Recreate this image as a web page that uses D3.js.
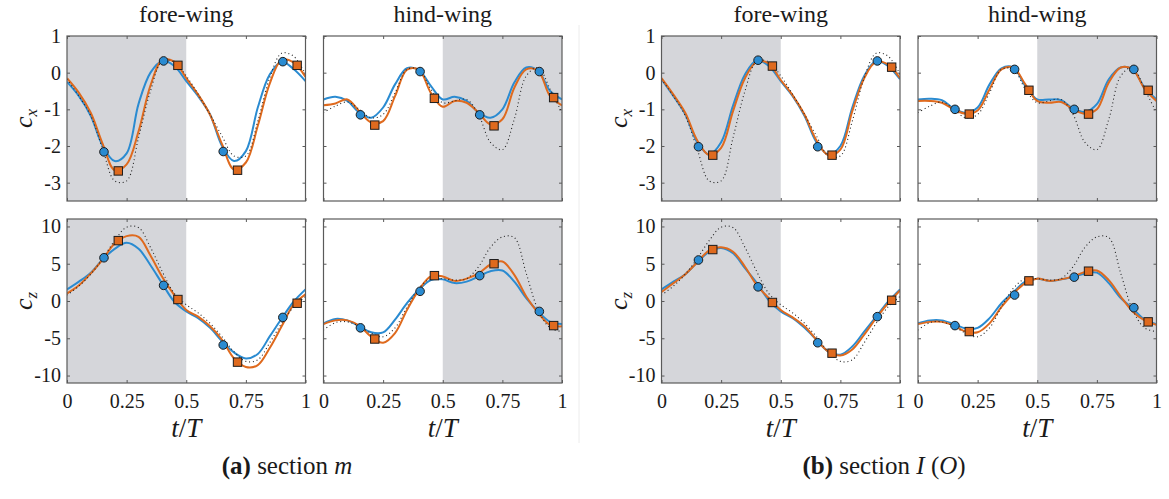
<!DOCTYPE html>
<html>
<head>
<meta charset="utf-8">
<script src="https://cdn.jsdelivr.net/npm/d3@7"></script>
<style>
body { margin: 0; background: #fff; }
svg text { font-family: 'Liberation Serif', 'DejaVu Serif', serif; fill: #1a1a1a; }
</style>
</head>
<body>
<svg id="fig" width="1169" height="499"></svg>
<script>
// sample times (t/T) for every curve
const tGrid = [0, 0.05, 0.1, 0.15, 0.2, 0.25, 0.3, 0.35, 0.4, 0.45, 0.5, 0.55, 0.6, 0.65, 0.7, 0.75, 0.8, 0.85, 0.9, 0.95, 1];
const circT = [0.155, 0.405, 0.655, 0.905];
const sqT = [0.215, 0.465, 0.715, 0.965];

const tTicks = [0, 0.25, 0.5, 0.75, 1];
const tTickLabels = ['0', '0.25', '0.5', '0.75', '1'];
const cxTicks = [-3, -2, -1, 0, 1];
const czTicks = [-10, -5, 0, 5, 10];
const cxDomain = [-3.5, 1];
const czDomain = [-11, 11];
const shadeFore = [0, 0.5];
const shadeHind = [0.5, 1];

const wingTitles = ['fore-wing', 'hind-wing'];

// reference (dotted), same in both sections
const ref_fore_cx = [-0.18, -0.64, -1.18, -2.09, -2.95, -2.95, -1.77, -0.5, 0.32, 0.29, -0.09, -0.59, -1.14, -1.73, -2.27, -2.27, -1.32, -0.14, 0.53, 0.45, -0.05];
const ref_hind_cx = [-1.09, -0.91, -0.8, -1.0, -1.23, -1.14, -0.55, 0.09, 0.09, -0.45, -0.82, -0.77, -0.73, -1.14, -1.9, -2.1, -1.27, -0.09, 0.14, -0.45, -1.09];
const ref_fore_cz = [0.8, 2.0, 3.6, 5.7, 8.1, 9.9, 9.85, 7.2, 3.9, 1.0, -0.5, -1.6, -3.0, -4.8, -6.8, -8.1, -7.9, -5.6, -3.0, -0.8, 0.6];
const ref_hind_cz = [-3.9, -2.9, -2.8, -3.4, -4.3, -4.8, -3.6, -0.8, 1.7, 3.0, 3.0, 2.8, 3.0, 4.6, 7.2, 8.6, 8.5, 3.7, -1.2, -3.6, -4.1];

// section m
const m_fore_cx_blue = [-0.25, -0.64, -1.18, -2.0, -2.41, -2.2, -0.85, 0.0, 0.32, 0.18, -0.23, -0.64, -1.14, -2.0, -2.41, -2.14, -0.95, -0.05, 0.3, 0.1, -0.23];
const m_fore_cx_orange = [-0.15, -0.55, -1.1, -1.95, -2.66, -2.5, -1.6, -0.35, 0.35, 0.3, -0.15, -0.6, -1.15, -1.95, -2.64, -2.45, -1.45, -0.3, 0.35, 0.28, -0.12];
const m_fore_cx_circ = [-2.16, 0.32, -2.15, 0.3];
const m_fore_cx_sq = [-2.68, 0.2, -2.66, 0.2];

const m_hind_cx_blue = [-0.73, -0.66, -0.77, -1.09, -1.23, -0.95, -0.32, 0.12, 0.07, -0.36, -0.73, -0.66, -0.77, -1.09, -1.23, -1.0, -0.27, 0.14, 0.05, -0.5, -0.73];
const m_hind_cx_orange = [-0.89, -0.84, -0.73, -1.05, -1.36, -1.32, -0.64, 0.08, 0.08, -0.55, -0.93, -0.77, -0.82, -1.09, -1.41, -1.27, -0.41, 0.09, 0.05, -0.64, -0.89];
const m_hind_cx_circ = [-1.15, 0.03, -1.15, 0.03];
const m_hind_cx_sq = [-1.43, -0.7, -1.45, -0.68];

const m_fore_cz_blue = [1.56, 2.6, 3.8, 5.6, 7.0, 7.8, 7.0, 4.8, 2.3, -0.1, -1.4, -2.3, -3.6, -5.4, -6.9, -7.7, -7.1, -4.75, -2.35, -0.1, 1.56];
const m_fore_cz_orange = [1.0, 2.1, 3.7, 5.6, 7.7, 8.7, 8.6, 6.1, 3.2, 0.8, -1.2, -2.1, -3.4, -5.2, -7.7, -8.85, -8.6, -6.3, -3.4, -0.5, 0.9];
const m_fore_cz_circ = [5.8, 2.1, -5.9, -2.2];
const m_fore_cz_sq = [8.1, 0.2, -8.2, -0.3];

const m_hind_cz_blue = [-3.0, -2.4, -2.6, -3.4, -4.2, -4.2, -2.5, -0.3, 1.5, 2.8, 2.9, 2.4, 2.6, 3.3, 4.0, 4.1, 2.6, 0.4, -1.4, -2.8, -3.1];
const m_hind_cz_orange = [-3.1, -2.6, -2.6, -3.3, -4.8, -5.6, -4.3, -1.2, 1.5, 3.3, 3.3, 2.7, 3.0, 3.7, 4.9, 5.3, 3.5, 0.6, -1.6, -3.2, -3.4];
const m_hind_cz_circ = [-3.6, 1.3, 3.4, -1.4];
const m_hind_cz_sq = [-5.1, 3.4, 5.0, -3.3];

// section I (O)
const io_fore_cx_blue = [-0.18, -0.64, -1.14, -1.9, -2.23, -1.9, -0.9, -0.05, 0.34, 0.18, -0.23, -0.64, -1.18, -1.9, -2.23, -2.0, -0.95, -0.09, 0.32, 0.18, -0.18];
const io_fore_cx_orange = [-0.15, -0.6, -1.1, -1.85, -2.25, -2.05, -1.05, -0.15, 0.3, 0.25, -0.2, -0.62, -1.15, -1.85, -2.25, -2.1, -1.05, -0.15, 0.3, 0.22, -0.15];
const io_fore_cx_circ = [-2.02, 0.34, -2.02, 0.32];
const io_fore_cx_sq = [-2.25, 0.18, -2.25, 0.15];

const io_hind_cx_blue = [-0.73, -0.71, -0.75, -0.98, -1.09, -0.95, -0.32, 0.12, 0.14, -0.36, -0.73, -0.73, -0.75, -0.98, -1.07, -0.86, -0.18, 0.14, 0.09, -0.41, -0.73];
const io_hind_cx_orange = [-0.77, -0.77, -0.82, -1.0, -1.12, -1.03, -0.45, 0.09, 0.14, -0.32, -0.77, -0.82, -0.8, -1.0, -1.12, -1.0, -0.27, 0.14, 0.09, -0.44, -0.77];
const io_hind_cx_circ = [-1.0, 0.09, -1.0, 0.09];
const io_hind_cx_sq = [-1.13, -0.48, -1.13, -0.48];

const io_fore_cz_blue = [1.56, 2.6, 3.6, 5.2, 6.6, 7.1, 6.4, 4.4, 2.4, 0.1, -1.4, -2.3, -3.6, -5.2, -6.8, -7.2, -6.1, -4.1, -2.1, -0.1, 1.56];
const io_fore_cz_orange = [1.2, 2.4, 3.6, 5.2, 6.8, 7.2, 6.6, 4.6, 2.1, 0.4, -1.2, -2.2, -3.4, -5.2, -6.8, -7.3, -6.5, -4.5, -2.3, -0.3, 1.4];
const io_fore_cz_circ = [5.5, 1.9, -5.6, -2.1];
const io_fore_cz_sq = [6.9, -0.2, -7.0, 0.1];

const io_hind_cz_blue = [-3.0, -2.6, -2.6, -3.1, -3.7, -3.6, -2.3, -0.3, 1.2, 2.6, 3.0, 2.7, 2.9, 3.2, 3.7, 3.8, 2.4, 0.4, -1.0, -2.5, -3.1];
const io_hind_cz_orange = [-3.1, -2.8, -2.8, -3.3, -4.1, -4.2, -3.0, -0.8, 1.0, 2.4, 3.0, 2.7, 2.9, 3.3, 3.9, 4.1, 2.8, 0.6, -1.4, -2.6, -3.2];
const io_hind_cz_circ = [-3.3, 0.8, 3.2, -0.9];
const io_hind_cz_sq = [-4.1, 2.7, 4.0, -2.8];

const panels = [
    {sec: 0, wing: 0, comp: 'cx', blue: m_fore_cx_blue, orange: m_fore_cx_orange, ref: ref_fore_cx, circ: m_fore_cx_circ, sq: m_fore_cx_sq},
    {sec: 0, wing: 1, comp: 'cx', blue: m_hind_cx_blue, orange: m_hind_cx_orange, ref: ref_hind_cx, circ: m_hind_cx_circ, sq: m_hind_cx_sq},
    {sec: 0, wing: 0, comp: 'cz', blue: m_fore_cz_blue, orange: m_fore_cz_orange, ref: ref_fore_cz, circ: m_fore_cz_circ, sq: m_fore_cz_sq},
    {sec: 0, wing: 1, comp: 'cz', blue: m_hind_cz_blue, orange: m_hind_cz_orange, ref: ref_hind_cz, circ: m_hind_cz_circ, sq: m_hind_cz_sq},
    {sec: 1, wing: 0, comp: 'cx', blue: io_fore_cx_blue, orange: io_fore_cx_orange, ref: ref_fore_cx, circ: io_fore_cx_circ, sq: io_fore_cx_sq},
    {sec: 1, wing: 1, comp: 'cx', blue: io_hind_cx_blue, orange: io_hind_cx_orange, ref: ref_hind_cx, circ: io_hind_cx_circ, sq: io_hind_cx_sq},
    {sec: 1, wing: 0, comp: 'cz', blue: io_fore_cz_blue, orange: io_fore_cz_orange, ref: ref_fore_cz, circ: io_fore_cz_circ, sq: io_fore_cz_sq},
    {sec: 1, wing: 1, comp: 'cz', blue: io_hind_cz_blue, orange: io_hind_cz_orange, ref: ref_hind_cz, circ: io_hind_cz_circ, sq: io_hind_cz_sq},
];

// layout
const colX = [67, 323.5, 661.5, 918];
const PW = 238.5;
const rows = {
    cx: {y0: 36, y1: 201, domain: cxDomain, ticks: cxTicks, sub: 'x'},
    cz: {y0: 219, y1: 383, domain: czDomain, ticks: czTicks, sub: 'z'}
};
const BLUE = '#2a8bd1';
const ORANGE = '#df6a1e';
const FRAME = '#5a5a5a';

const svg = d3.select('#fig');

// thin separator between the two sub-figures
svg.append('line')
    .attr('x1', 579).attr('x2', 579).attr('y1', 25).attr('y2', 443)
    .attr('stroke', '#ececec').attr('stroke-width', 1);

panels.forEach((p, k) => {
    const col = p.sec * 2 + p.wing;
    const r = rows[p.comp];
    const x = d3.scaleLinear().domain([0, 1]).range([colX[col], colX[col] + PW]);
    const y = d3.scaleLinear().domain(r.domain).range([r.y1, r.y0]);
    const g = svg.append('g');

    const clipId = 'clip' + k;
    svg.append('clipPath').attr('id', clipId)
        .append('rect')
        .attr('x', x(0)).attr('y', r.y0)
        .attr('width', x(1) - x(0)).attr('height', r.y1 - r.y0);

    // shaded half period
    const sh = p.wing === 0 ? shadeFore : shadeHind;
    g.append('rect')
        .attr('x', x(sh[0])).attr('y', r.y0)
        .attr('width', x(sh[1]) - x(sh[0])).attr('height', r.y1 - r.y0)
        .attr('fill', '#d5d6da');

    // axes, ticks pointing inwards on all four sides
    const showX = p.comp === 'cz';
    const showY = p.wing === 0;
    const axB = d3.axisBottom(x).tickValues(tTicks).tickSize(-3).tickPadding(11)
        .tickFormat((d, i) => showX ? tTickLabels[i] : '');
    const axT = d3.axisTop(x).tickValues(tTicks).tickSize(-3).tickFormat('');
    const axL = d3.axisLeft(y).tickValues(r.ticks).tickSize(-3).tickPadding(6)
        .tickFormat(d => showY ? String(d) : '');
    const axR = d3.axisRight(y).tickValues(r.ticks).tickSize(-3).tickFormat('');

    [[axB, `translate(0,${r.y1})`], [axT, `translate(0,${r.y0})`],
     [axL, `translate(${x(0)},0)`], [axR, `translate(${x(1)},0)`]].forEach(([ax, tr]) => {
        const a = g.append('g').attr('transform', tr).call(ax)
            .attr('font-family', null).attr('font-size', null);
        a.select('.domain').remove();
        a.selectAll('line').attr('stroke', FRAME).attr('stroke-width', 1);
        a.selectAll('text').attr('font-size', 20).attr('fill', '#1a1a1a');
    });

    // curves
    const line = d3.line()
        .x((d, i) => x(tGrid[i]))
        .y(d => y(d))
        .curve(d3.curveCatmullRom.alpha(0.5));
    const lines = g.append('g').attr('clip-path', `url(#${clipId})`);
    lines.append('path').datum(p.blue).attr('d', line)
        .attr('fill', 'none').attr('stroke', BLUE).attr('stroke-width', 2);
    lines.append('path').datum(p.orange).attr('d', line)
        .attr('fill', 'none').attr('stroke', ORANGE).attr('stroke-width', 2);
    lines.append('path').datum(p.ref).attr('d', line)
        .attr('fill', 'none').attr('stroke', '#222').attr('stroke-width', 1.1)
        .attr('stroke-dasharray', '1,2.8');

    // markers
    g.selectAll(null).data(p.circ).join('circle')
        .attr('cx', (d, i) => x(circT[i])).attr('cy', d => y(d)).attr('r', 4.3)
        .attr('fill', BLUE).attr('stroke', '#1c1c1c').attr('stroke-width', 1);
    g.selectAll(null).data(p.sq).join('rect')
        .attr('x', (d, i) => x(sqT[i]) - 4.2).attr('y', d => y(d) - 4.2)
        .attr('width', 8.4).attr('height', 8.4)
        .attr('fill', ORANGE).attr('stroke', '#1c1c1c').attr('stroke-width', 1);

    // frame
    g.append('rect')
        .attr('x', x(0)).attr('y', r.y0)
        .attr('width', x(1) - x(0)).attr('height', r.y1 - r.y0)
        .attr('fill', 'none').attr('stroke', FRAME).attr('stroke-width', 1.2);

    // wing title
    if (p.comp === 'cx') {
        g.append('text')
            .attr('x', (x(0) + x(1)) / 2).attr('y', 22)
            .attr('text-anchor', 'middle').attr('font-size', 24)
            .text(wingTitles[p.wing]);
    }

    // y label
    if (showY) {
        const yl = g.append('text')
            .attr('transform', `translate(${x(0) - 35},${(r.y0 + r.y1) / 2}) rotate(-90)`)
            .attr('text-anchor', 'middle').attr('font-size', 26).attr('font-style', 'italic');
        yl.append('tspan').text('c');
        yl.append('tspan').attr('font-size', 17).attr('dy', 5).text(r.sub);
    }

    // x label
    if (showX) {
        const xl = g.append('text')
            .attr('x', (x(0) + x(1)) / 2).attr('y', 437)
            .attr('text-anchor', 'middle').attr('font-size', 27);
        xl.append('tspan').attr('font-style', 'italic').text('t');
        xl.append('tspan').text('/');
        xl.append('tspan').attr('font-style', 'italic').text('T');
    }
});

// sub-figure captions
const captions = [
    {x: 287, tag: '(a)', parts: [['section ', 'normal'], ['m', 'italic']]},
    {x: 884, tag: '(b)', parts: [['section ', 'normal'], ['I', 'italic'], [' (', 'normal'], ['O', 'italic'], [')', 'normal']]}
];
captions.forEach(c => {
    const t = svg.append('text').attr('x', c.x).attr('y', 474)
        .attr('text-anchor', 'middle').attr('font-size', 25);
    t.append('tspan').attr('font-weight', 'bold').text(c.tag + ' ');
    c.parts.forEach(([s, st]) => t.append('tspan').attr('font-style', st).text(s));
});
</script>
</body>
</html>
